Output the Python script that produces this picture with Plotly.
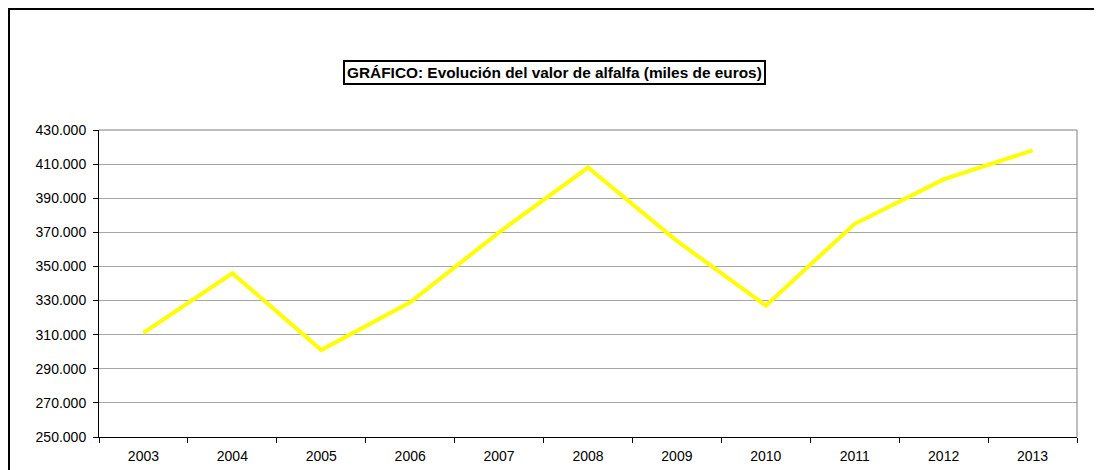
import plotly.graph_objects as go

years = ["2003", "2004", "2005", "2006", "2007", "2008", "2009", "2010", "2011", "2012", "2013"]
valor = [311000, 346000, 301000, 329000, 370000, 408000, 365000, 327000, 375000, 401000, 418000]
y_ticks = [250000, 270000, 290000, 310000, 330000, 350000, 370000, 390000, 410000, 430000]
title_text = "GRÁFICO: Evolución del valor de alfalfa (miles de euros)"

fig = go.Figure()
fig.add_trace(go.Scatter(
    x=years, y=valor, mode="lines",
    line=dict(color="#FFFF00", width=4),
    showlegend=False, hoverinfo="x+y",
))

# page has an 8px body margin; figure coordinates are page coordinates minus 8
OFF = 8
W, H = 1102 - OFF, 470 - OFF
L, T = 99 - OFF, 130 - OFF
pw, ph = 978, 307
R = W - L - pw
B = H - T - ph

def px_x(p):
    return (p - OFF - L) / pw

def px_y(p):
    return (T + ph - (p - OFF)) / ph

fig.update_layout(
    width=W, height=H,
    margin=dict(l=L, r=R, t=T, b=B, pad=0, autoexpand=False),
    paper_bgcolor="white", plot_bgcolor="white",
    separators=",.",
    font=dict(family="Liberation Sans, Arial, sans-serif", size=14, color="black"),
    xaxis=dict(
        type="category", range=[-0.5, 10.5], automargin=False,
        showgrid=False, showline=True, linecolor="black", linewidth=1,
        ticks="outside", tickson="boundaries", ticklen=5, tickcolor="black",
        ticklabelstandoff=6,
        tickfont=dict(size=14, color="black"), zeroline=False, fixedrange=True,
    ),
    yaxis=dict(
        range=[250000, 430000], tickvals=y_ticks, tickformat=",.0f", automargin=False,
        showgrid=True, gridcolor="#a6a6a6", gridwidth=1,
        showline=True, linecolor="black", linewidth=1,
        ticks="outside", ticklen=5, tickcolor="black",
        ticklabelstandoff=4,
        tickfont=dict(size=14, color="black"), zeroline=False, fixedrange=True,
    ),
    shapes=[
        dict(type="line", xref="paper", yref="paper", x0=0, x1=1, y0=1, y1=1,
             line=dict(color="#7f7f7f", width=1), layer="above"),
        dict(type="line", xref="paper", yref="paper", x0=1, x1=1, y0=0, y1=1,
             line=dict(color="#7f7f7f", width=1), layer="above"),
        dict(type="line", xref="paper", yref="paper", x0=px_x(8.5), x1=px_x(8.5),
             y0=px_y(8.5), y1=px_y(480), line=dict(color="black", width=3)),
        dict(type="line", xref="paper", yref="paper", x0=px_x(1099), x1=px_x(1099),
             y0=px_y(8.5), y1=px_y(480), line=dict(color="black", width=3)),
        dict(type="line", xref="paper", yref="paper", x0=px_x(7), x1=px_x(1100.5),
             y0=px_y(8.5), y1=px_y(8.5), line=dict(color="black", width=3)),
    ],
    annotations=[
        dict(text="<b>" + title_text + "</b>", xref="paper", yref="paper",
             x=px_x(554), y=px_y(72.5), xanchor="center", yanchor="middle",
             showarrow=False, font=dict(size=15.4, color="black"),
             bordercolor="black", borderwidth=2, borderpad=2, bgcolor="white"),
    ],
)

fig.write_html("out.html")
